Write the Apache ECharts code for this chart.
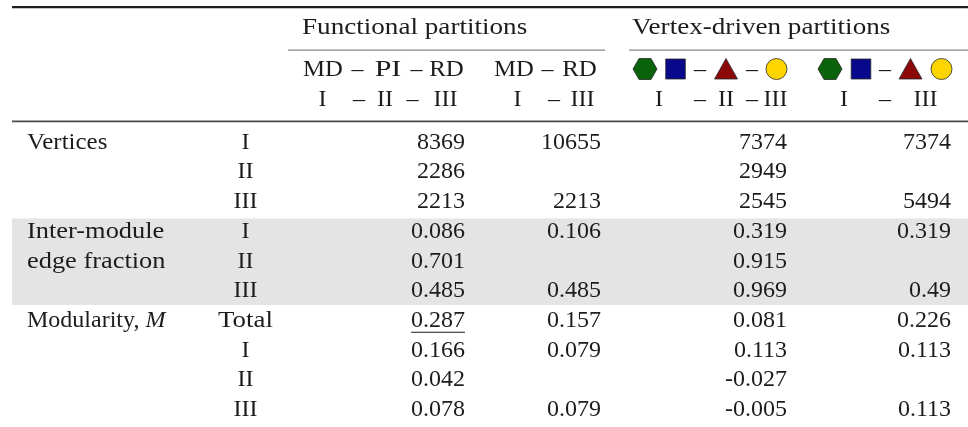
<!DOCTYPE html>
<html><head><meta charset="utf-8">
<script src="https://cdn.jsdelivr.net/npm/echarts@6/dist/echarts.min.js"></script>
<style>html,body{margin:0;padding:0;background:#fff}#c{width:968px;height:427px}</style>
</head><body><div id="c"></div>
<script>
// ---------- data ----------
const groupLabels = ['Vertices', '', '', 'Inter-module', 'edge fraction', '', 'Modularity, ', '', '', ''];
const groupItalic = ['', '', '', '', '', '', 'M', '', '', ''];
const subLabels = ['I', 'II', 'III', 'I', 'II', 'III', 'Total', 'I', 'II', 'III'];
const functionalAll = [8369, 2286, 2213, 0.086, 0.701, 0.485, 0.287, 0.166, 0.042, 0.078];
const functionalMdRd = [10655, null, 2213, 0.106, null, 0.485, 0.157, 0.079, null, 0.079];
const vertexAll = [7374, 2949, 2545, 0.319, 0.915, 0.969, 0.081, 0.113, -0.027, -0.005];
const vertexTwo = [7374, null, 5494, 0.319, null, 0.49, 0.226, 0.113, null, 0.113];
const groupTitles = ['Functional partitions', 'Vertex-driven partitions'];
const headerTopTokens = [['MD', '–', 'PI', '–', 'RD'], ['MD', '–', 'RD']];
const headerBottomTokens = [['I', '–', 'II', '–', 'III'], ['I', '–', 'III'], ['I', '–', 'II', '–', 'III'], ['I', '–', 'III']];
const shadedRows = [3, 5];      // Inter-module edge fraction block
const underlined = [[6, 2]];    // [row, column] of underlined cell

// ---------- layout / style ----------
const W = 968;
const FONT = 'Liberation Serif';
const FS = 24;
const INK = '#1c1c1c';
const COL_X = [27, 245.5, 465, 601, 787, 951];
const COL_ALIGN = ['left', 'center', 'right', 'right', 'right', 'right'];
const BODY_TOP = 127.65, ROW_H = 29.7;
const TOP_TOKEN_X = [[323, 357.5, 388, 416.5, 446.5], [514, 547.5, 579.5]];
const BOT_TOKEN_X = [[322.5, 359, 385, 412.5, 445.5], [517.5, 554, 582.5], [659, 700, 726, 752, 775.5], [844, 885, 925.5]];
// horizontal stretch to mimic the wider Computer Modern letterforms
const STRETCH = { 'Functional partitions': 1.13, 'Vertex-driven partitions': 1.13, 'Inter-module': 1.1,
                  'edge fraction': 1.1, 'Total': 1.12, 'Vertices': 1.04, 'PI': 1.25, 'RD': 1.04, 'MD': 1.03 };

const columns = [groupLabels, subLabels, functionalAll, functionalMdRd, vertexAll, vertexTwo];
const cells = [];
columns.forEach((col, c) => col.forEach((v, r) => {
  if (v === null || v === '') return;
  cells.push({ value: [COL_X[c], r, c], text: String(v), italic: c === 0 ? groupItalic[r] : '' });
}));

const measure = (() => {
  const ctx = document.createElement('canvas').getContext('2d');
  ctx.font = FS + 'px "' + FONT + '"';
  return t => ctx.measureText(t).width;
})();

const chart = echarts.init(document.getElementById('c'), null, { renderer: 'canvas' });

const textEl = (x, y, text, align, extra) => Object.assign({
  type: 'text', x: x, y: y, scaleX: STRETCH[text] || 1,
  style: { text: text, fontSize: FS, fontFamily: FONT, fill: INK, align: align, textAlign: align,
           verticalAlign: 'middle', textVerticalAlign: 'middle' }
}, extra || {});

const graphics = [];
// rules
graphics.push({ type: 'rect', shape: { x: 12, y: 6, width: W - 12, height: 2.2 }, style: { fill: '#1e1e1e' } });
graphics.push({ type: 'rect', shape: { x: 288, y: 49.5, width: 317, height: 1.2 }, style: { fill: '#8a8a8a' } });
graphics.push({ type: 'rect', shape: { x: 629, y: 49.5, width: W - 629, height: 1.2 }, style: { fill: '#8a8a8a' } });
graphics.push({ type: 'rect', shape: { x: 12, y: 120.6, width: W - 12, height: 1.6 }, style: { fill: '#4a4a4a' } });
// group titles
graphics.push(textEl(302, 27.5, groupTitles[0], 'left'));
graphics.push(textEl(632, 27.5, groupTitles[1], 'left'));
// second header line (functional)
headerTopTokens.forEach((toks, i) => toks.forEach((t, j) => graphics.push(textEl(TOP_TOKEN_X[i][j], 69.5, t, 'center'))));
// third header line
headerBottomTokens.forEach((toks, i) => toks.forEach((t, j) => graphics.push(textEl(BOT_TOKEN_X[i][j], 99.5, t, 'center'))));
// shapes for vertex-driven partitions
function shapeSet(hx, sx, d1, tx, d2, cx) {
  const cy = 69, st = { stroke: '#2a2a2a', lineWidth: 0.8 };
  graphics.push({ type: 'polygon', shape: { points: [[hx - 12, cy], [hx - 6, cy - 10.5], [hx + 6, cy - 10.5], [hx + 12, cy], [hx + 6, cy + 10.5], [hx - 6, cy + 10.5]] }, style: Object.assign({ fill: '#0a620a' }, st) });
  graphics.push({ type: 'rect', shape: { x: sx - 9.8, y: cy - 10, width: 19.6, height: 20 }, style: Object.assign({ fill: '#08088a' }, st) });
  graphics.push({ type: 'polygon', shape: { points: [[tx - 11.5, cy + 10], [tx, cy - 10.5], [tx + 11.5, cy + 10]] }, style: Object.assign({ fill: '#8a0808' }, st) });
  graphics.push({ type: 'circle', shape: { cx: cx, cy: cy, r: 10.5 }, style: Object.assign({ fill: '#ffd500' }, st) });
  [d1, d2].forEach(d => { if (d) graphics.push(textEl(d, 69.5, '–', 'center')); });
}
shapeSet(645, 675.5, 700, 726, 752, 776.5);
shapeSet(830, 861, 885, 910.5, null, 941.5);

const option = {
  animation: false,
  backgroundColor: '#fff',
  grid: { left: 0, top: BODY_TOP, width: W, height: ROW_H * subLabels.length },
  xAxis: { type: 'value', min: 0, max: W, show: false },
  yAxis: { type: 'category', inverse: true, show: false, data: subLabels.map((_, i) => 'row' + i) },
  graphic: { elements: graphics },
  series: [
    {
      type: 'custom', z: 1, silent: true,
      data: [[shadedRows[0], shadedRows[1]]],
      encode: { x: -1, y: [0, 1] },
      renderItem: (params, api) => {
        const h = api.size([0, 1])[1];
        const y0 = api.coord([0, api.value(0)])[1] - h / 2 + 1.8;
        const y1 = api.coord([0, api.value(1)])[1] + h / 2 - 0.8;
        const x0 = api.coord([12, 0])[0], x1 = api.coord([W, 0])[0];
        return { type: 'rect', shape: { x: x0, y: y0, width: x1 - x0, height: y1 - y0 }, style: { fill: '#e4e4e4' } };
      }
    },
    {
      type: 'custom', z: 2, silent: true,
      data: cells.map(c => c.value),
      encode: { x: 0, y: 1 },
      renderItem: (params, api) => {
        const cell = cells[params.dataIndex];
        const c = api.value(2), r = api.value(1);
        const p = api.coord([api.value(0), r]);
        const align = COL_ALIGN[c];
        const children = [];
        if (cell.italic) {
          children.push(textEl(p[0], p[1], cell.text, 'left'));
          const el = textEl(p[0] + measure(cell.text), p[1], cell.italic, 'left');
          el.style.fontStyle = 'italic';
          children.push(el);
        } else {
          children.push(textEl(p[0], p[1], cell.text, align));
        }
        if (underlined.some(u => u[0] === r && u[1] === c)) {
          const w = measure(cell.text);
          children.push({ type: 'rect', shape: { x: p[0] - w, y: p[1] + 11, width: w, height: 1 }, style: { fill: INK } });
        }
        return { type: 'group', children: children };
      }
    }
  ]
};
chart.setOption(option);
</script>
</body></html>
